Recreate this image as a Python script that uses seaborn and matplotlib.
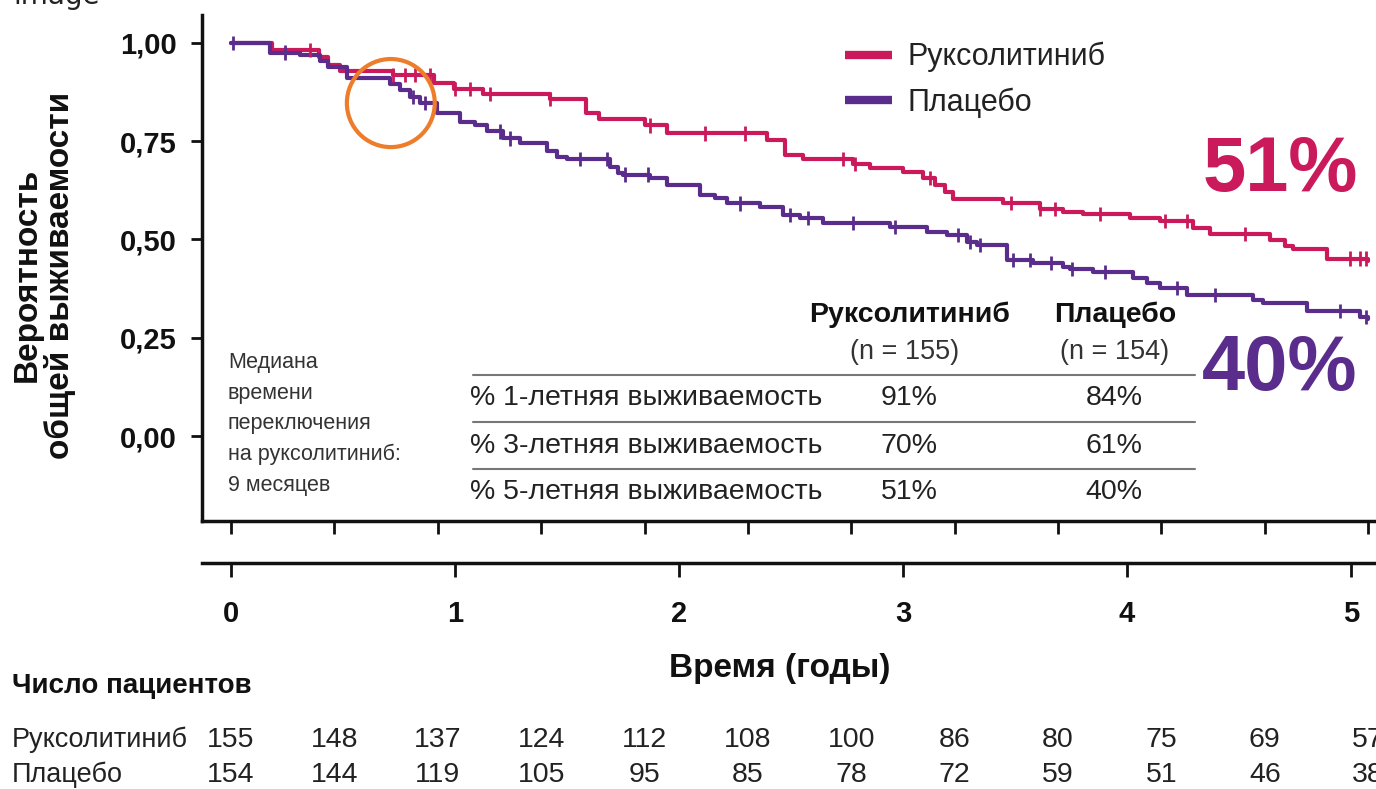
import numpy as np
import pandas as pd
import matplotlib.pyplot as plt
import matplotlib.transforms as mtransforms
from matplotlib.patches import Ellipse
from matplotlib.lines import Line2D
import seaborn as sns

# ----- Data ----- #

# Kaplan-Meier steps: time in weeks, overall survival probability
rux_weeks = [0, 9.5, 20.4, 22.5, 25.3, 37.6, 47.2, 51.8, 58.5, 74.1,
             82.3, 85.5, 96.0, 101.2, 124.4, 128.6, 132.8, 144.4, 148.4, 156.0,
             160.7, 163.5, 165.8, 167.6, 179.2, 187.8, 193.2, 197.8, 208.7, 215.7,
             223.4, 227.3, 241.2, 244.7, 246.6, 254.5, 264.0]
rux_surv = [1.0, 0.982, 0.965, 0.943, 0.929, 0.918, 0.898, 0.883, 0.870, 0.857,
            0.822, 0.806, 0.790, 0.770, 0.752, 0.715, 0.705, 0.692, 0.682, 0.672,
            0.656, 0.638, 0.620, 0.603, 0.593, 0.578, 0.570, 0.565, 0.555, 0.547,
            0.530, 0.514, 0.499, 0.484, 0.476, 0.451, 0.445]

pbo_weeks = [0, 9.1, 16.0, 20.7, 22.5, 27.0, 36.9, 39.2, 41.6, 43.9,
             47.8, 53.2, 56.7, 59.4, 63.2, 67.1, 73.4, 75.7, 78.0, 88.0,
             89.9, 91.0, 97.3, 101.2, 108.9, 112.4, 115.2, 122.8, 128.2, 132.1,
             137.5, 153.0, 161.6, 166.2, 170.9, 173.2, 180.2, 186.2, 193.2, 194.8,
             200.1, 209.4, 212.7, 215.7, 222.0, 237.3, 239.6, 249.8, 262.1, 264.0]
pbo_surv = [1.0, 0.975, 0.968, 0.955, 0.940, 0.911, 0.895, 0.880, 0.862, 0.847,
            0.822, 0.800, 0.790, 0.775, 0.757, 0.745, 0.725, 0.710, 0.705, 0.685,
            0.670, 0.665, 0.656, 0.638, 0.614, 0.605, 0.592, 0.583, 0.562, 0.555,
            0.542, 0.532, 0.519, 0.511, 0.494, 0.486, 0.448, 0.440, 0.430, 0.425,
            0.417, 0.402, 0.389, 0.377, 0.359, 0.346, 0.338, 0.318, 0.303, 0.298]

# Censoring marks (weeks)
rux_censor = [18.3, 37.6, 40.4, 42.7, 46.2, 52.0, 55.5, 60.1, 74.1, 97.3, 110.0,
              119.3, 142.1, 144.9, 162.3, 181.1, 187.8, 191.3, 201.8, 216.9, 222.0,
              235.4, 259.8, 262.1, 263.5]
pbo_censor = [0.5, 12.5, 42.3, 45.0, 62.5, 64.8, 81.0, 87.3, 91.5, 96.8, 118.2,
              129.8, 134.0, 144.4, 154.2, 168.8, 171.6, 173.9, 181.6, 185.5, 190.4,
              195.3, 202.9, 219.6, 228.5, 257.5, 263.5]

arm_names = ['Руксолитиниб', 'Плацебо']
arm_colors = ['#CA1A5B', '#5A2C8C']

# Number at risk
risk_weeks = [0, 24, 48, 72, 96, 120, 144, 168, 192, 216, 240, 264]
rux_risk = [155, 148, 137, 124, 112, 108, 100, 86, 80, 75, 69, 57]
pbo_risk = [154, 144, 119, 105, 95, 85, 78, 72, 59, 51, 46, 38]

# Year axis
years = [0, 1, 2, 3, 4, 5]
weeks_per_year = 52

# Survival summary table
table_rows = ['% 1-летняя выживаемость', '% 3-летняя выживаемость', '% 5-летняя выживаемость']
rux_rates = ['91%', '70%', '51%']
pbo_rates = ['84%', '61%', '40%']
y_ticks = [0.0, 0.25, 0.50, 0.75, 1.00]

# ----- Build data frames ----- #
curve_df = pd.concat([
    pd.DataFrame({'week': rux_weeks, 'surv': rux_surv, 'arm': arm_names[0]}),
    pd.DataFrame({'week': pbo_weeks, 'surv': pbo_surv, 'arm': arm_names[1]}),
])


def step_value(weeks, surv, t):
    idx = np.searchsorted(weeks, t, side='right') - 1
    return np.array(surv)[idx]


censor_df = pd.concat([
    pd.DataFrame({'week': rux_censor, 'surv': step_value(rux_weeks, rux_surv, rux_censor), 'arm': arm_names[0]}),
    pd.DataFrame({'week': pbo_censor, 'surv': step_value(pbo_weeks, pbo_surv, pbo_censor), 'arm': arm_names[1]}),
])
palette = dict(zip(arm_names, arm_colors))

# ----- Plot ----- #
sns.set_style('ticks')
plt.rcParams['font.family'] = ['Liberation Sans', 'DejaVu Sans']

W, H = 1376, 789
fig = plt.figure(figsize=(W / 100, H / 100), dpi=100)


def fx(px):
    return px / W


def fy(py):
    return 1 - py / H


ax = fig.add_axes([fx(202), fy(521), 1 - fx(202), fy(15) - fy(521)])

sns.lineplot(data=curve_df, x='week', y='surv', hue='arm', palette=palette,
             drawstyle='steps-post', estimator=None, sort=False, linewidth=3, ax=ax)
sns.scatterplot(data=censor_df, x='week', y='surv', hue='arm', palette=palette,
                marker='|', s=110, linewidth=2, legend=False, ax=ax, zorder=3)

ax.set_xlim(-6.73, 265.8)
ax.set_ylim(-0.216, 1.071)
ax.set_xlabel('')
ax.set_ylabel('')
sns.despine(ax=ax)
for side in ['left', 'bottom']:
    ax.spines[side].set_linewidth(2.5)
    ax.spines[side].set_color('#111111')

ax.set_yticks(y_ticks)
ax.set_yticklabels([f'{v:.2f}'.replace('.', ',') for v in y_ticks],
                   fontsize=21, fontweight='bold', color='#111111')
ax.tick_params(axis='y', length=8, width=2, pad=10, color='#111111')
ax.set_xticks(risk_weeks)
ax.set_xticklabels([])
ax.tick_params(axis='x', length=9, width=2, color='#111111')

# Legend
leg = ax.legend(frameon=False, loc='upper left', bbox_to_anchor=(fx(845), fy(42)),
                bbox_transform=fig.transFigure, fontsize=22, handlelength=1.55,
                handletextpad=0.5, labelspacing=0.5, borderaxespad=0, borderpad=0)
for line in leg.get_lines():
    line.set_linewidth(6)
    line.set_solid_capstyle('butt')
for txt in leg.get_texts():
    txt.set_color('#222222')

# Highlight circle around the crossing point
ax.add_patch(Ellipse((37.1, 0.847), 20.4, 0.224, fill=False, ec='#EE7D2B', lw=3, zorder=5))

# Big 5-year percentages
fig.text(fx(1280), fy(170), rux_rates[2], color=arm_colors[0], fontsize=56,
         fontweight='bold', ha='center', va='center')
fig.text(fx(1280), fy(370), pbo_rates[2], color=arm_colors[1], fontsize=56,
         fontweight='bold', ha='center', va='center')

# Survival table inside the plot
fig.text(fx(910), fy(315), arm_names[0], fontsize=20.5, fontweight='bold', ha='center', va='center', color='#111111')
fig.text(fx(1115), fy(315), arm_names[1], fontsize=20.5, fontweight='bold', ha='center', va='center', color='#111111')
fig.text(fx(905), fy(352), '(n = 155)', fontsize=19.5, ha='center', va='center', color='#333333')
fig.text(fx(1115), fy(352), '(n = 154)', fontsize=19.5, ha='center', va='center', color='#333333')
for py in [375, 422, 469]:
    fig.add_artist(Line2D([fx(473), fx(1195)], [fy(py), fy(py)], color='#777777', lw=1.5))
for i, py in enumerate([398, 446, 492]):
    fig.text(fx(470), fy(py), table_rows[i], fontsize=20.5, ha='left', va='center', color='#222222')
    fig.text(fx(909), fy(py), rux_rates[i], fontsize=20.5, ha='center', va='center', color='#222222')
    fig.text(fx(1114), fy(py), pbo_rates[i], fontsize=20.5, ha='center', va='center', color='#222222')

fig.text(fx(228), fy(352), 'Медиана\nвремени\nпереключения\nна руксолитиниб:\n9 месяцев',
         fontsize=15.5, ha='left', va='top', linespacing=1.6, color='#333333')

# Y axis title
fig.text(fx(44), fy(275), 'Вероятность\nобщей выживаемости', rotation=90, fontsize=24,
         fontweight='bold', ha='center', va='center', linespacing=1.05, color='#111111')

# Year axis below the plot
ax2 = fig.add_axes([fx(202), fy(563), 1 - fx(202), 0.0005])
ax2.set_xlim(ax.get_xlim())
ax2.set_yticks([])
for side in ['left', 'right', 'top']:
    ax2.spines[side].set_visible(False)
ax2.spines['bottom'].set_linewidth(2.5)
ax2.spines['bottom'].set_color('#111111')
ax2.set_xticks([y * weeks_per_year for y in years])
ax2.set_xticklabels([str(y) for y in years], fontsize=21, fontweight='bold', color='#111111')
ax2.tick_params(axis='x', length=10, width=2, pad=17, color='#111111')
ax2.patch.set_visible(False)

fig.text(fx(780), fy(668), 'Время (годы)', fontsize=24, fontweight='bold', ha='center', va='center', color='#111111')

# Number at risk table
fig.text(fx(12), fy(686), 'Число пациентов', fontsize=20, fontweight='bold', ha='left', va='center', color='#111111')
trans = mtransforms.blended_transform_factory(ax.transData, fig.transFigure)
for name, counts, py in [(arm_names[0], rux_risk, 740), (arm_names[1], pbo_risk, 775)]:
    fig.text(fx(12), fy(py), name, fontsize=19.5, ha='left', va='center', color='#222222')
    for w, n in zip(risk_weeks, counts):
        ax.text(w, fy(py), str(n), transform=trans, fontsize=20.5, ha='center', va='center',
                color='#222222', clip_on=False)

# Leftover caption cut at the top edge
fig.text(fx(13), fy(4), 'image', fontsize=20, ha='left', va='baseline', color='#222222',
         family='DejaVu Sans')

fig.savefig('out.png', dpi=100)
